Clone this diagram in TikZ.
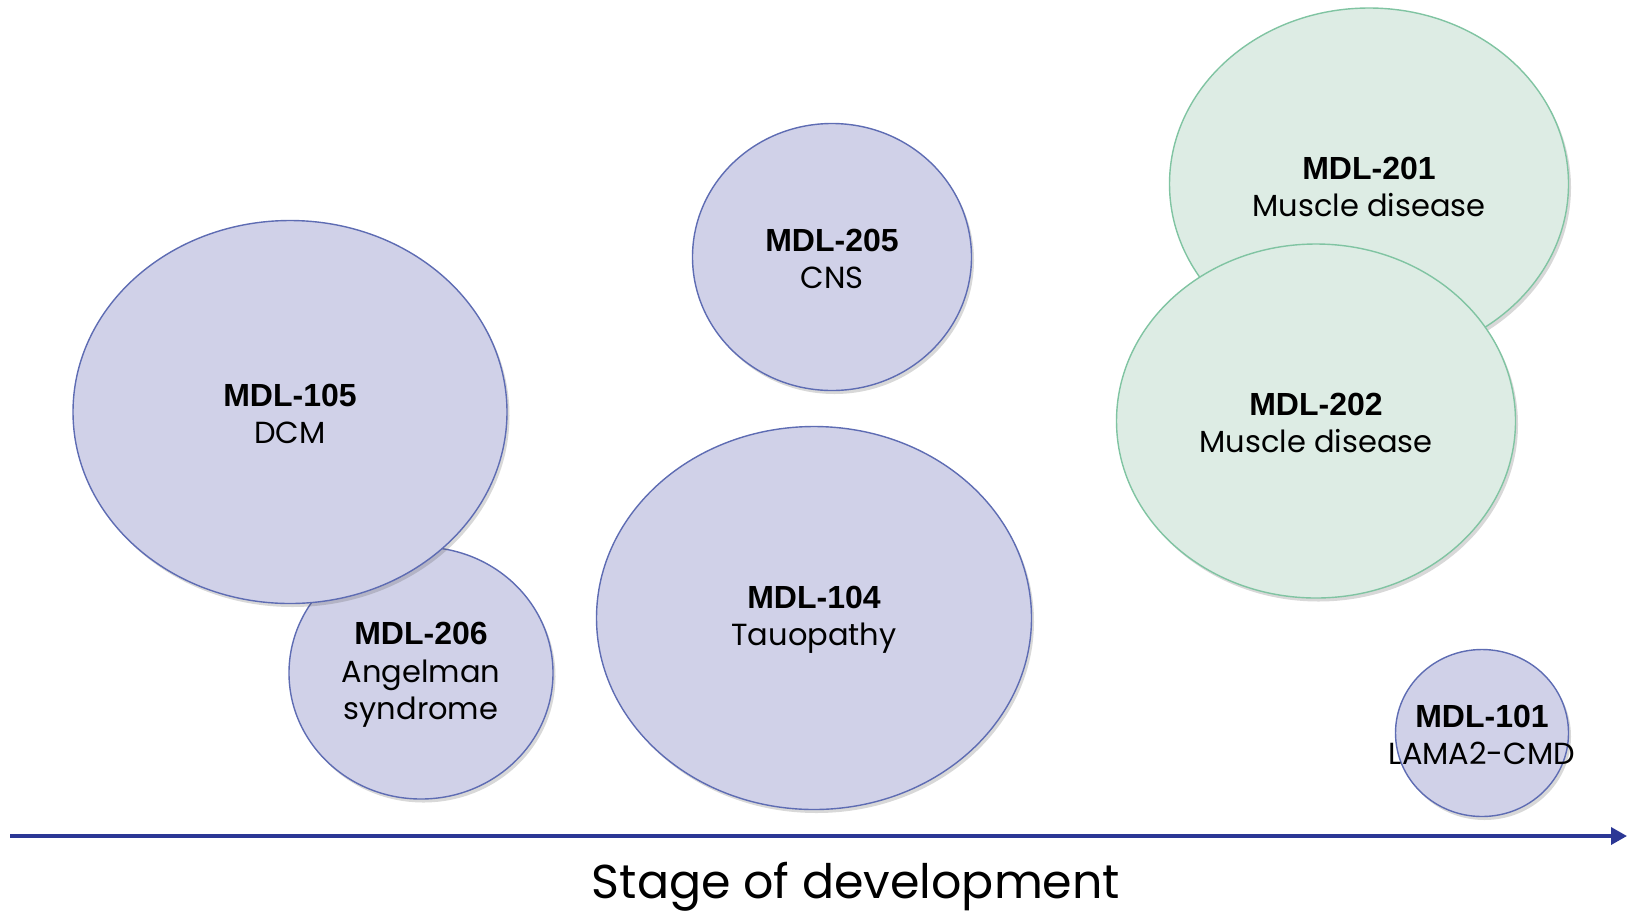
\documentclass[tikz,border=0pt]{standalone}
\usepackage{fontspec}
\setmainfont{Poppins}
\newfontfamily\boldlab{Liberation Sans}
\usetikzlibrary{shapes.geometric,shadows,arrows.meta}
\definecolor{lavfill}{HTML}{D0D1E8}
\definecolor{lavline}{HTML}{5E6CB3}
\definecolor{grnfill}{HTML}{DDECE4}
\definecolor{grnline}{HTML}{80C4A2}
\definecolor{axisblue}{HTML}{2B3795}
\tikzset{
  bub/.style={ellipse, draw=lavline, fill=lavfill, line width=1.4pt, inner sep=0pt,
    drop shadow={shadow xshift=2.5pt, shadow yshift=-3.5pt, opacity=0.22, fill=black!70}},
  gbub/.style={bub, draw=grnline, fill=grnfill},
  lab/.style={align=center, font=\fontsize{30.5}{37.5}\selectfont, text=black, inner sep=0pt},
}
\newcommand{\bl}[1]{{\boldlab\bfseries\fontsize{32}{37.5}\selectfont #1}}
\begin{document}
\begin{tikzpicture}[x=1pt,y=-1pt]
\useasboundingbox (0,0) rectangle (1627,914);
% green bubbles
\node[gbub, minimum width=399pt, minimum height=352pt] (c201) at (1369,184) {};
\node[gbub, minimum width=399pt, minimum height=354pt] (c202) at (1316,421) {};
% lavender bubbles
\node[bub, minimum width=264pt, minimum height=252pt] (c206) at (421,673) {};
\node[bub, minimum width=434pt, minimum height=383pt] (c105) at (290,412) {};
\node[bub, minimum width=279pt, minimum height=267pt] (c205) at (832,257) {};
\node[bub, minimum width=435pt, minimum height=383pt] (c104) at (814,618) {};
\node[bub, minimum width=173pt, minimum height=167pt] (c101) at (1482,733) {};
% labels
\node[lab] (t105) at ([yshift=-2pt]c105.center) {\bl{MDL-105}\\DCM};
\node[lab] (t206) at ([yshift=-2pt]c206.center) {\bl{MDL-206}\\Angelman\\syndrome};
\node[lab] (t205) at ([yshift=-2pt]c205.center) {\bl{MDL-205}\\CNS};
\node[lab] (t104) at ([yshift=-2pt]c104.center) {\bl{MDL-104}\\Tauopathy};
\node[lab] (t201) at ([yshift=-3pt]c201.center) {\bl{MDL-201}\\Muscle disease};
\node[lab] (t202) at ([yshift=-2pt]c202.center) {\bl{MDL-202}\\Muscle disease};
\node[lab] (t101) at ([yshift=-2pt]c101.center) {\bl{MDL-101}\\LAMA2-CMD};
% axis
\coordinate (a0) at (10,836);
\coordinate (a1) at (1627,836);
\draw[axisblue, line width=3.5pt, -{Triangle[length=16pt,width=17pt]}] (a0) -- (a1);
\node[font=\fontsize{47.5}{52}\selectfont, inner sep=0pt] (axl) at (856,887) {Stage of development};
\end{tikzpicture}
\end{document}
